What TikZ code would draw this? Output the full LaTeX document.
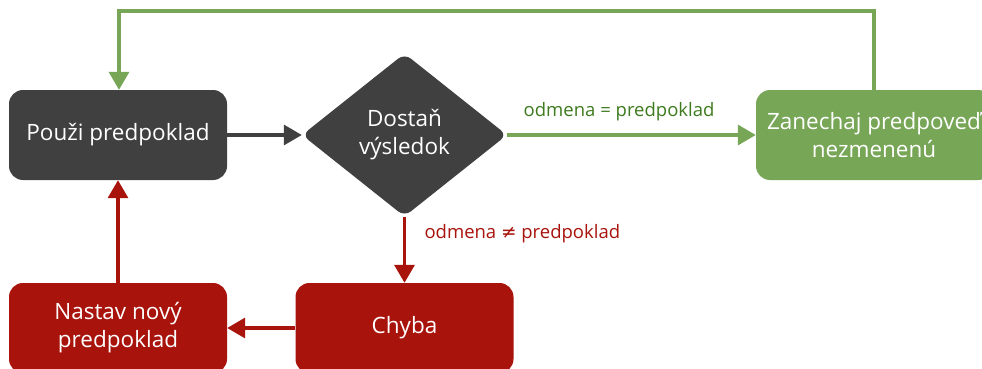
\documentclass[tikz,border=0pt]{standalone}
\usepackage{fontspec}
\setmainfont{Open Sans}
\newfontfamily\symfont{DejaVu Sans}
\usetikzlibrary{shapes,arrows.meta,positioning,shapes.geometric}

\definecolor{darkbox}{HTML}{404040}
\definecolor{greenbox}{HTML}{77A657}
\definecolor{greentext}{HTML}{3E7A1E}
\definecolor{redbox}{HTML}{A8130C}

\begin{document}
\begin{tikzpicture}[x=1pt, y=-1pt, auto]
    % Define block styles
    \tikzstyle{process} = [rectangle, rounded corners=14pt, minimum width=218pt, minimum height=90pt, text centered, align=center, text=white, font=\fontsize{22.5}{28}\selectfont]
    \tikzstyle{decision} = [diamond, aspect=1.26, minimum width=205pt, minimum height=163pt, inner sep=0pt, rounded corners=8pt, fill=darkbox, text=white, align=center, font=\fontsize{22.5}{28}\selectfont]
    \tikzstyle{arrow} = [line width=3.4pt, -{Triangle[length=18pt, width=20pt]}]
    \tikzstyle{edgelabel} = [font=\fontsize{18.5}{22}\selectfont]

    \useasboundingbox (0,0) rectangle (982,369);

    % Nodes
    \node (apply) [process, fill=darkbox] at (118,135) {Použi predpoklad};
    \node (result) [decision] at (404.5,135) {Dostaň\\výsledok};
    \node (keep) [process, fill=greenbox, minimum width=236pt] at (874,135) {Zanechaj predpoveď\\nezmenenú};
    \node (error) [process, fill=redbox] at (404.5,328) {Chyba};
    \node (reset) [process, fill=redbox] at (118,328) {Nastav nový\\predpoklad};

    % Arrows between nodes
    \draw [arrow, darkbox] (apply) -- (result);
    \draw [arrow, greenbox] (result) -- node[edgelabel, text=greentext, above=9pt, pos=0.45] {odmena = predpoklad} (keep);
    \draw [arrow, greenbox] (keep.north) |- (119,11) -- (apply.north -| 119,0);
    \draw [arrow, redbox] (result) -- node[edgelabel, text=redbox, right=15pt, pos=0.25] {odmena {\symfont ≠} predpoklad} (error);
    \draw [arrow, redbox] (error) -- (reset);
    \draw [arrow, redbox] (reset) -- (apply);
\end{tikzpicture}
\end{document}
